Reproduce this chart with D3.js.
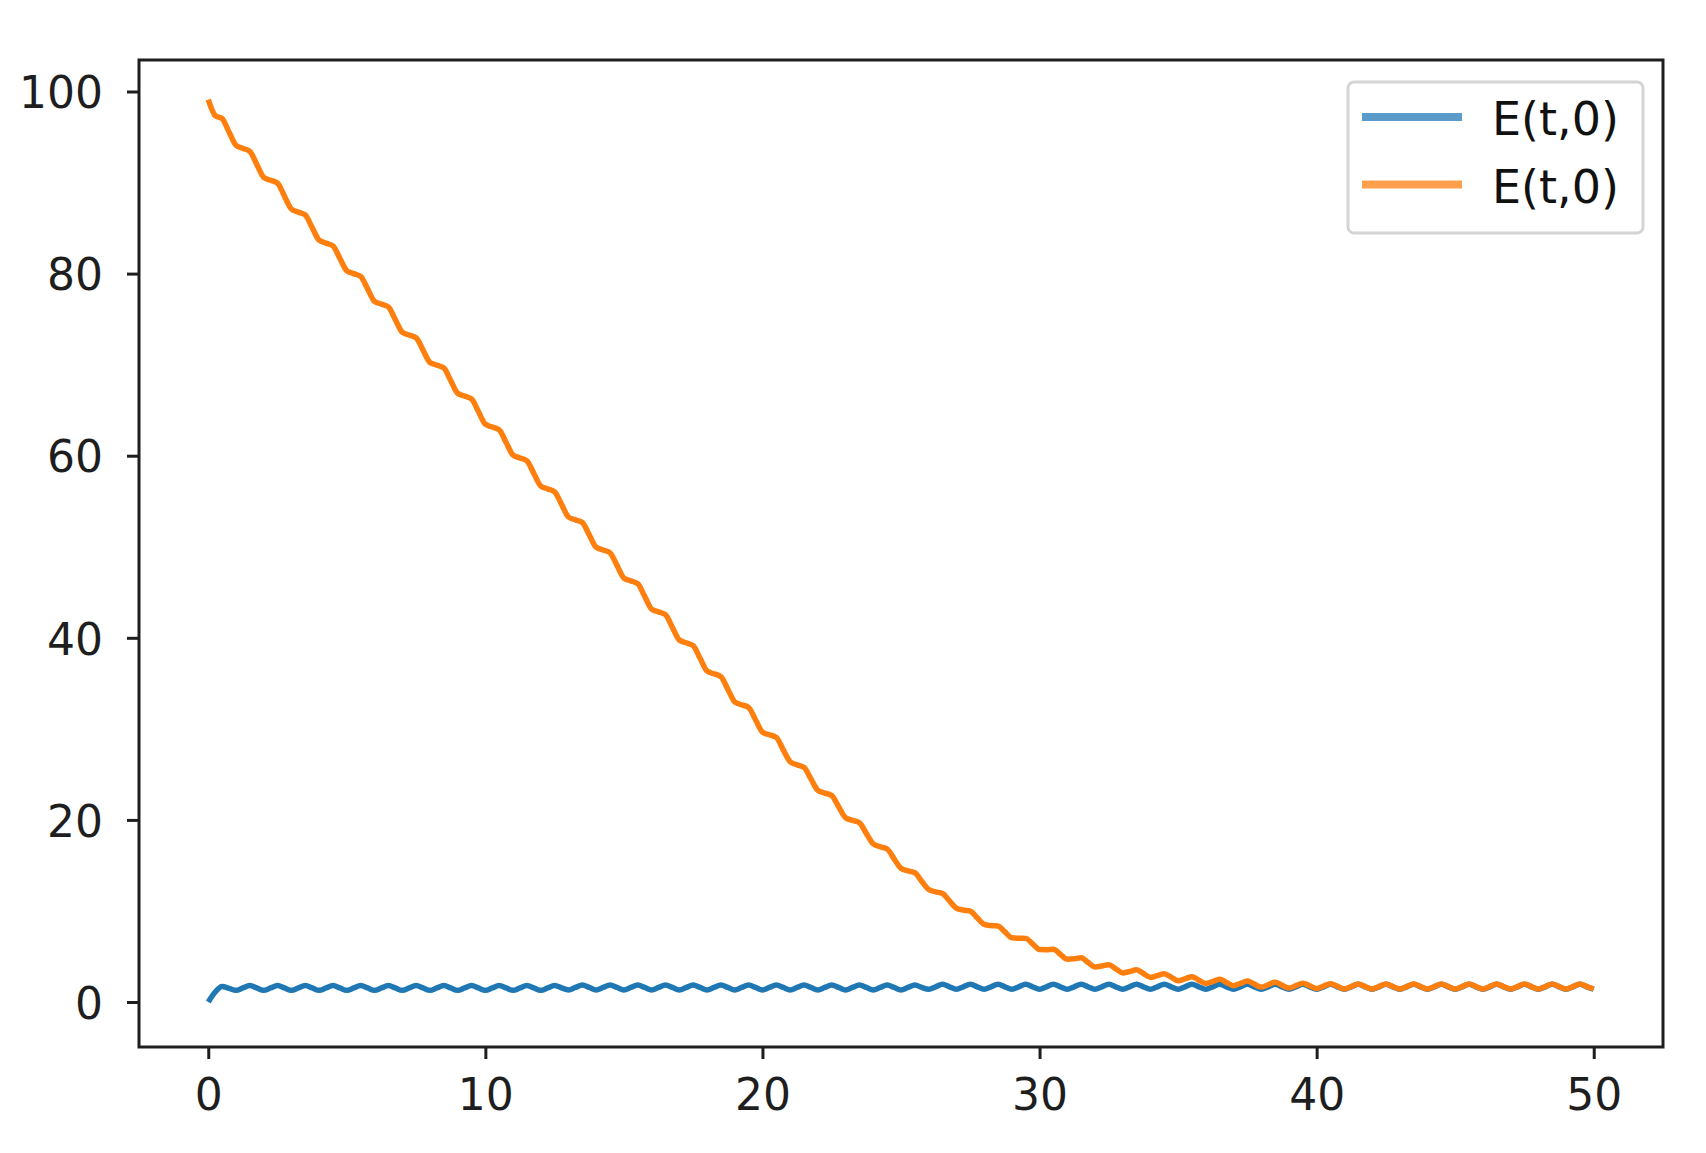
<!DOCTYPE html>
<html><head><meta charset="utf-8">
<script src="https://cdn.jsdelivr.net/npm/d3@7"></script>
<style>html,body{margin:0;padding:0;background:#fff;} svg{display:block;}</style>
</head><body>
<svg id="chart" width="1706" height="1153"></svg>
<script>
// ---- data ----
const seriesNames = ["E(t,0)", "E(t,0)"];
const lineColors = ["#1f77b4", "#ff7f0e"];
const legendColors = ["#5b9bc9", "#ffa04c"];
const xTickValues = [0, 10, 20, 30, 40, 50];
const yTickValues = [0, 20, 40, 60, 80, 100];

const tValues = [
  0,0.25,0.5,0.75, 1,1.25,1.5,1.75, 2,2.25,2.5,2.75, 3,3.25,3.5,3.75, 4,4.25,4.5,4.75,
  5,5.25,5.5,5.75, 6,6.25,6.5,6.75, 7,7.25,7.5,7.75, 8,8.25,8.5,8.75, 9,9.25,9.5,9.75,
  10,10.25,10.5,10.75, 11,11.25,11.5,11.75, 12,12.25,12.5,12.75, 13,13.25,13.5,13.75, 14,14.25,14.5,14.75,
  15,15.25,15.5,15.75, 16,16.25,16.5,16.75, 17,17.25,17.5,17.75, 18,18.25,18.5,18.75, 19,19.25,19.5,19.75,
  20,20.25,20.5,20.75, 21,21.25,21.5,21.75, 22,22.25,22.5,22.75, 23,23.25,23.5,23.75, 24,24.25,24.5,24.75,
  25,25.25,25.5,25.75, 26,26.25,26.5,26.75, 27,27.25,27.5,27.75, 28,28.25,28.5,28.75, 29,29.25,29.5,29.75,
  30,30.25,30.5,30.75, 31,31.25,31.5,31.75, 32,32.25,32.5,32.75, 33,33.25,33.5,33.75, 34,34.25,34.5,34.75,
  35,35.25,35.5,35.75, 36,36.25,36.5,36.75, 37,37.25,37.5,37.75, 38,38.25,38.5,38.75, 39,39.25,39.5,39.75,
  40,40.25,40.5,40.75, 41,41.25,41.5,41.75, 42,42.25,42.5,42.75, 43,43.25,43.5,43.75, 44,44.25,44.5,44.75,
  45,45.25,45.5,45.75, 46,46.25,46.5,46.75, 47,47.25,47.5,47.75, 48,48.25,48.5,48.75, 49,49.25,49.5,49.75,
  50
];

const blueValues = [
  0.0,1.1,1.7,1.5,
  1.28,1.55,1.82,1.55, 1.28,1.55,1.82,1.55, 1.28,1.55,1.82,1.55, 1.28,1.55,1.82,1.55,
  1.28,1.55,1.82,1.55, 1.28,1.55,1.82,1.55, 1.28,1.55,1.82,1.55, 1.28,1.55,1.82,1.55,
  1.28,1.55,1.82,1.55, 1.28,1.55,1.82,1.55, 1.28,1.55,1.82,1.55, 1.28,1.55,1.82,1.55,
  1.33,1.6,1.87,1.6, 1.33,1.6,1.87,1.6, 1.33,1.6,1.87,1.6, 1.33,1.6,1.87,1.6,
  1.33,1.6,1.87,1.6, 1.33,1.6,1.87,1.6, 1.33,1.6,1.87,1.6, 1.33,1.6,1.87,1.6,
  1.33,1.6,1.87,1.6, 1.33,1.6,1.87,1.6, 1.33,1.6,1.87,1.6, 1.33,1.6,1.87,1.6,
  1.33,1.6,1.87,1.6,
  1.4,1.67,1.94,1.67, 1.4,1.67,1.94,1.67, 1.4,1.67,1.94,1.67, 1.4,1.67,1.94,1.67,
  1.4,1.67,1.94,1.67, 1.4,1.67,1.94,1.67, 1.4,1.67,1.94,1.67, 1.4,1.67,1.94,1.67,
  1.4,1.67,1.94,1.67, 1.4,1.67,1.94,1.67, 1.4,1.67,1.94,1.67, 1.4,1.67,1.94,1.67,
  1.4,1.67,1.94,1.67, 1.4,1.67,1.94,1.67, 1.4,1.67,1.94,1.67, 1.4,1.67,1.94,1.67,
  1.4,1.67,1.94,1.67, 1.4,1.67,1.94,1.67, 1.4,1.67,1.94,1.67, 1.4,1.67,1.94,1.67,
  1.4,1.67,1.94,1.67, 1.4,1.67,1.94,1.67, 1.4,1.67,1.94,1.67, 1.4,1.67,1.94,1.67,
  1.4
];

const orangeValues = [
  99.1,97.35,97.02,95.55,   94.09,93.75,93.43,92.0,   90.57,90.25,89.94,88.5,   87.09,86.75,86.44,85.05,
  83.67,83.35,83.04,81.68,  80.31,80.0,79.69,78.33,   76.95,76.65,76.34,74.95,  73.57,73.25,72.96,71.6,
  70.24,69.95,69.64,68.25,  66.86,66.55,66.24,64.85,  63.46,63.15,62.84,61.45,  60.06,59.75,59.44,58.05,
  56.66,56.35,56.04,54.65,  53.27,52.95,52.66,51.3,   49.94,49.65,49.34,47.95,  46.56,46.25,45.94,44.55,
  43.16,42.85,42.54,41.15,  39.76,39.45,39.14,37.75,  36.36,36.05,35.74,34.35,  32.97,32.65,32.36,31.0,
  29.65,29.35,29.06,27.7,   26.39,26.05,25.77,24.5,   23.25,22.95,22.68,21.45,  20.24,19.95,19.69,18.5,
  17.36,17.05,16.81,15.73,  14.69,14.4,14.2,13.25,    12.36,12.1,11.92,11.1,    10.3,10.1,9.98,9.25,
  8.53,8.4,8.35,7.7,        7.05,7.0,6.99,6.38,       5.76,5.75,5.8,5.25,       4.7,4.75,4.85,4.35,
  3.85,3.95,4.1,3.65,       3.2,3.35,3.54,3.13,       2.71,2.9,3.11,2.73,       2.34,2.55,2.78,2.4,
  2.03,2.25,2.5,2.15,       1.8,2.05,2.31,1.98,       1.64,1.9,2.18,1.85,       1.53,1.8,2.07,1.78,
  1.48,1.75,2.02,1.73,      1.43,1.7,1.97,1.7,        1.43,1.7,1.97,1.7,        1.43,1.7,1.97,1.7,
  1.43,1.7,1.97,1.7,        1.43,1.7,1.97,1.7,        1.43,1.7,1.97,1.7,        1.43,1.7,1.97,1.7,
  1.43,1.7,1.97,1.7,        1.43,1.7,1.97,1.7,
  1.43
];

// ---- drawing ----
const plotLeft = 139, plotRight = 1663, plotTop = 60, plotBottom = 1047;
const svg = d3.select("#chart");
svg.append("rect").attr("width", 1706).attr("height", 1153).attr("fill", "#fff");

const x = d3.scaleLinear().domain([-2.5, 52.5]).range([plotLeft, plotRight]);
const y = d3.scaleLinear().domain([-4.94, 103.46]).range([plotBottom, plotTop]);

const FONT = "DejaVu Sans, Liberation Sans, sans-serif";
const ink = "#1e1e1e";

// x axis
const gx = svg.append("g").attr("transform", `translate(0,${plotBottom})`)
  .call(d3.axisBottom(x).tickValues(xTickValues).tickSize(12).tickPadding(20).tickFormat(d3.format("d")));
// y axis
const gy = svg.append("g").attr("transform", `translate(${plotLeft},0)`)
  .call(d3.axisLeft(y).tickValues(yTickValues).tickSize(12).tickPadding(24).tickFormat(d3.format("d")));

[gx, gy].forEach(g => {
  g.select(".domain").remove();
  g.selectAll(".tick line").attr("stroke", ink).attr("stroke-width", 3);
  g.selectAll(".tick text").attr("fill", ink).attr("font-family", FONT).attr("font-size", 44);
});
gy.selectAll(".tick text").attr("dy", "0.37em");

// lines
const series = [blueValues, orangeValues];
const line = d3.line()
  .x((d, i) => x(tValues[i]))
  .y(d => y(d))
  .curve(d3.curveMonotoneX);

series.forEach((vals, si) => {
  svg.append("path")
    .datum(vals)
    .attr("d", line)
    .attr("fill", "none")
    .attr("stroke", lineColors[si])
    .attr("stroke-width", 5.5)
    .attr("stroke-linejoin", "round")
    .attr("stroke-linecap", "butt");
});

// spines
svg.append("rect")
  .attr("x", plotLeft).attr("y", plotTop)
  .attr("width", plotRight - plotLeft).attr("height", plotBottom - plotTop)
  .attr("fill", "none").attr("stroke", ink).attr("stroke-width", 3);

// legend
const lg = svg.append("g");
lg.append("rect")
  .attr("x", 1348).attr("y", 82).attr("width", 295).attr("height", 151).attr("rx", 6)
  .attr("fill", "#fff").attr("fill-opacity", 0.8)
  .attr("stroke", "#d4d4d4").attr("stroke-width", 3);
seriesNames.forEach((name, i) => {
  const cy = 117 + i * 67.5;
  lg.append("line")
    .attr("x1", 1362).attr("x2", 1462).attr("y1", cy).attr("y2", cy)
    .attr("stroke", legendColors[i]).attr("stroke-width", 8);
  lg.append("text")
    .attr("x", 1492).attr("y", cy + 18)
    .attr("font-family", FONT).attr("font-size", 46).attr("fill", "#111")
    .text(name);
});
</script>
</body></html>
